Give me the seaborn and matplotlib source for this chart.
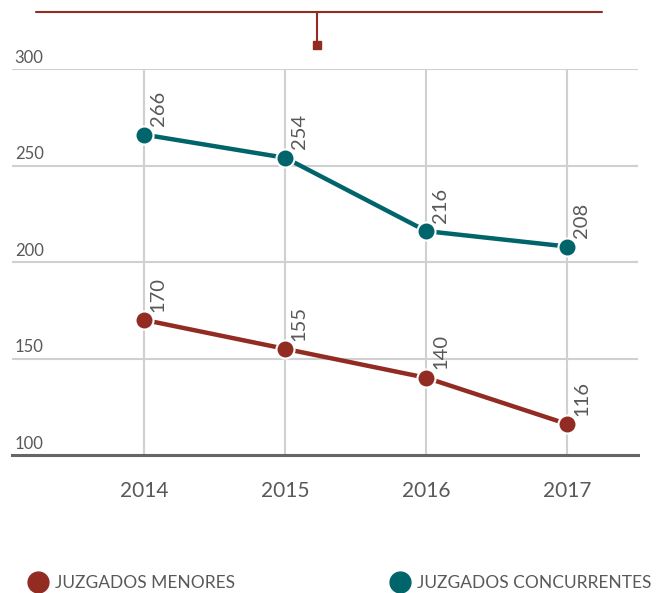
import pandas as pd
import matplotlib
matplotlib.use("Agg")
import matplotlib.pyplot as plt
import seaborn as sns
from matplotlib.lines import Line2D

# data
years = [2014, 2015, 2016, 2017]
menores = [170, 155, 140, 116]
concurrentes = [266, 254, 216, 208]
series_names = ["JUZGADOS MENORES", "JUZGADOS CONCURRENTES"]
y_ticks = [100, 150, 200, 250, 300]

RED = "#922B21"
TEAL = "#00656B"
GREY_TXT = "#595959"

df = pd.DataFrame({
    "year": years * 2,
    "value": menores + concurrentes,
    "serie": [series_names[0]] * 4 + [series_names[1]] * 4,
})

sns.set_theme(style="white")
plt.rcParams["font.family"] = ["Lato", "DejaVu Sans"]

fig = plt.figure(figsize=(6.6, 5.93), dpi=100)
ax = fig.add_axes([12 / 660, (593 - 455) / 593, 626 / 660, 386 / 593])

# grid
for y in y_ticks[1:]:
    ax.axhline(y, color="#d0d0d0", lw=1.5, zorder=0)
for x in years:
    ax.plot([x, x], [100, 300], color="#d0d0d0", lw=1.5, zorder=0)

sns.lineplot(data=df, x="year", y="value", hue="serie",
             palette=[RED, TEAL], marker="o", markersize=13,
             markeredgecolor="white", markeredgewidth=1.5,
             linewidth=3.2, ax=ax, legend=False, zorder=3)

for vals in (menores, concurrentes):
    for x, v in zip(years, vals):
        ax.annotate(str(v), (x, v), xytext=(4, 6), textcoords="offset points",
                    rotation=90, ha="left", va="bottom", fontsize=14.5,
                    color=GREY_TXT)

ax.set_xlim(2013.064, 2017.5)
ax.set_ylim(100, 300)
ax.set_xticks(years)
ax.set_xticklabels([str(y) for y in years], fontsize=15, color=GREY_TXT)
ax.tick_params(axis="x", length=0, pad=19)
ax.set_yticks([])
ax.set_xlabel("")
ax.set_ylabel("")
for s in ["top", "right", "left"]:
    ax.spines[s].set_visible(False)
ax.spines["bottom"].set_color("#666666")
ax.spines["bottom"].set_linewidth(2.2)

# y labels sit above their grid lines
for y in y_ticks:
    ax.annotate(str(y), (0, y), xycoords=("axes fraction", "data"),
                xytext=(2, 2.5), textcoords="offset points",
                ha="left", va="bottom", fontsize=12, color=GREY_TXT)

# header decoration
fig.add_artist(Line2D([36 / 660, 602 / 660], [1 - 12 / 593, 1 - 12 / 593],
                      color=RED, lw=1.5))
fig.add_artist(Line2D([317 / 660, 317 / 660], [1 - 12 / 593, 1 - 44 / 593],
                      color=RED, lw=1.5))
fig.add_artist(Line2D([317 / 660], [1 - 45 / 593], color=RED, marker="s",
                      markersize=6, lw=0))

# legend
handles = [Line2D([], [], marker="o", lw=0, color=c, markersize=15)
           for c in (RED, TEAL)]
leg = fig.legend(handles, series_names, loc="center left",
                 bbox_to_anchor=(22 / 660, 1 - 583 / 593), ncol=2,
                 frameon=False, fontsize=12.5, handletextpad=0.5,
                 columnspacing=9.0, borderaxespad=0, handlelength=1.0)
for t in leg.get_texts():
    t.set_color(GREY_TXT)

fig.savefig("out.png", dpi=100)
